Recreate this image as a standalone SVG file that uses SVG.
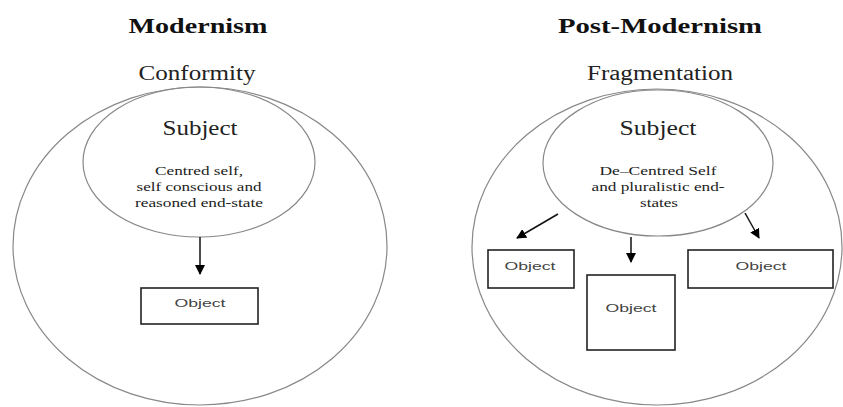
<svg xmlns="http://www.w3.org/2000/svg" width="843" height="407" viewBox="0 0 843 407">
<defs>
<marker id="ah" markerWidth="10" markerHeight="10" refX="9" refY="5" orient="auto" markerUnits="userSpaceOnUse">
<path d="M0,0 L10,5 L0,10 Z" fill="#000"/>
</marker>
<style>
.title{font-family:"Liberation Serif","Times New Roman",serif;font-weight:bold;font-size:20px;fill:#111;text-anchor:middle}
.sub{font-family:"Liberation Serif","Times New Roman",serif;font-size:20px;fill:#222;text-anchor:middle}
.subj{font-family:"Liberation Serif","Times New Roman",serif;font-size:21px;fill:#222;text-anchor:middle}
.desc{font-family:"Liberation Serif","Times New Roman",serif;font-size:13.5px;fill:#222;text-anchor:middle}
.obj{font-family:"Liberation Sans",sans-serif;font-size:11.5px;fill:#444;text-anchor:middle}
.ell{fill:none;stroke:#888;stroke-width:1.2}
.box{fill:#fff;stroke:#222;stroke-width:1.6}
.conn{stroke:#111;stroke-width:1.5;fill:none;marker-end:url(#ah)}
</style>
</defs>
<rect width="843" height="407" fill="#fff"/>
<text class="title" x="198" y="33" textLength="139" lengthAdjust="spacingAndGlyphs">Modernism</text>
<text class="sub" x="197" y="80" textLength="117" lengthAdjust="spacingAndGlyphs">Conformity</text>
<text class="title" x="660" y="33" textLength="204" lengthAdjust="spacingAndGlyphs">Post-Modernism</text>
<text class="sub" x="660" y="80" textLength="146" lengthAdjust="spacingAndGlyphs">Fragmentation</text>

<g id="outer-left"><ellipse class="ell" cx="200" cy="246" rx="187" ry="159"/></g>
<g id="outer-right"><ellipse class="ell" cx="657" cy="247" rx="185" ry="158"/></g>

<g id="subject-left">
<ellipse class="ell" cx="199" cy="162" rx="116" ry="75"/>
<text class="subj" x="200" y="135" textLength="75" lengthAdjust="spacingAndGlyphs">Subject</text>
<text class="desc" x="199" y="175" textLength="88" lengthAdjust="spacingAndGlyphs">Centred self,</text>
<text class="desc" x="199" y="191" textLength="125" lengthAdjust="spacingAndGlyphs">self conscious and</text>
<text class="desc" x="199" y="207" textLength="128" lengthAdjust="spacingAndGlyphs">reasoned end-state</text>
</g>
<g id="object-left">
<rect class="box" x="141" y="288" width="117" height="36"/>
<text class="obj" x="200" y="307" textLength="51" lengthAdjust="spacingAndGlyphs">Object</text>
</g>

<g id="subject-right">
<ellipse class="ell" cx="658" cy="163" rx="115" ry="73"/>
<text class="subj" x="658" y="135" textLength="77" lengthAdjust="spacingAndGlyphs">Subject</text>
<text class="desc" x="658" y="175" textLength="117" lengthAdjust="spacingAndGlyphs">De–Centred Self</text>
<text class="desc" x="658" y="191" textLength="133" lengthAdjust="spacingAndGlyphs">and pluralistic end-</text>
<text class="desc" x="659" y="207" textLength="38" lengthAdjust="spacingAndGlyphs">states</text>
</g>
<g id="object-r1">
<rect class="box" x="488" y="250" width="86" height="38"/>
<text class="obj" x="530" y="270" textLength="51" lengthAdjust="spacingAndGlyphs">Object</text>
</g>
<g id="object-r2">
<rect class="box" x="587" y="275" width="88" height="75"/>
<text class="obj" x="631" y="312" textLength="51" lengthAdjust="spacingAndGlyphs">Object</text>
</g>
<g id="object-r3">
<rect class="box" x="688" y="250" width="145" height="38"/>
<text class="obj" x="761" y="270" textLength="51" lengthAdjust="spacingAndGlyphs">Object</text>
</g>

<g id="connectors">
<line class="conn" x1="200" y1="237" x2="200" y2="274"/>
<line class="conn" x1="558" y1="214" x2="517" y2="238"/>
<line class="conn" x1="631" y1="237" x2="631" y2="262"/>
<line class="conn" x1="745" y1="213" x2="759" y2="238"/>
</g>
</svg>
